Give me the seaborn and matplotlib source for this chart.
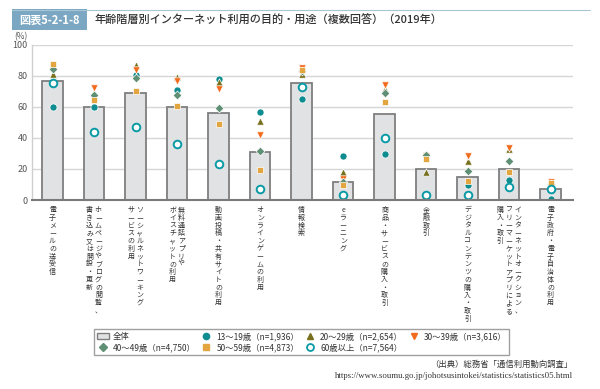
import matplotlib
matplotlib.use("Agg")
import matplotlib.pyplot as plt
import matplotlib.transforms as mtransforms
from matplotlib.patches import Rectangle, Patch
from matplotlib.lines import Line2D
import seaborn as sns
import pandas as pd

sns.set_theme(style="white")
plt.rcParams['font.family'] = ['Noto Sans CJK JP', 'DejaVu Sans']

# ---------------- data ----------------
categories = [
    ["電子メールの送受信"],
    ["ホームページやブログの閲覧、", "書き込み又は開設・更新"],
    ["ソーシャルネットワーキング", "サービスの利用"],
    ["無料通話アプリや", "ボイスチャットの利用"],
    ["動画投稿・共有サイトの利用"],
    ["オンラインゲームの利用"],
    ["情報検索"],
    ["eラーニング"],
    ["商品・サービスの購入・取引"],
    ["金融取引"],
    ["デジタルコンテンツの購入・取引"],
    ["インターネットオークション、", "フリーマーケットアプリによる", "購入・取引"],
    ["電子政府・電子自治体の利用"],
]
total   = [76.8, 59.8, 69.2, 60.0, 55.9, 31.2, 75.7, 11.5, 55.6, 19.8, 14.8, 20.0, 7.3]
age1319 = [59.9, 60.1, 80.9, 70.8, 77.8, 57.0, 64.9, 28.4, 29.7, 2.9, 9.7, 13.1, 0.6]
age2029 = [81.0, 68.8, 87.4, 79.6, 75.9, 51.2, 81.4, 18.2, 71.5, 18.0, 25.3, 33.0, 11.4]
age3039 = [85.0, 72.0, 83.6, 77.0, 71.8, 41.9, 85.4, 13.3, 74.4, 28.4, 28.3, 33.3, 11.9]
age4049 = [84.7, 67.9, 78.5, 67.7, 59.4, 31.8, 83.2, 11.7, 69.3, 28.9, 19.0, 25.2, 10.6]
age5059 = [87.5, 64.8, 70.5, 60.9, 48.8, 19.6, 83.9, 9.4, 63.2, 26.5, 12.5, 18.3, 11.0]
age60   = [75.8, 44.0, 47.2, 36.1, 23.4, 7.3, 72.7, 3.2, 40.3, 3.5, 3.5, 8.2, 6.9]

legend_total = "全体"
series_labels = ["13～19歳（n=1,936）", "20～29歳（n=2,654）", "30～39歳（n=3,616）",
                 "40～49歳（n=4,750）", "50～59歳（n=4,873）", "60歳以上（n=7,564）"]
yticks = [0, 20, 40, 60, 80, 100]
title_tag = "図表5-2-1-8"
title_text = "年齢階層別インターネット利用の目的・用途（複数回答）（2019年）"
source1 = "（出典）総務省「通信利用動向調査」"
source2 = "https://www.soumu.go.jp/johotsusintokei/statistics/statistics05.html"

# ---------------- styles ----------------
bar_face = "#e1e2e4"
bar_edge = "#7f7f7f"
styles = [
    dict(marker="o", color="#0e8c8f", s=26, fill=True),
    dict(marker="^", color="#77701f", s=28, fill=True),
    dict(marker="v", color="#f26a1b", s=28, fill=True),
    dict(marker="D", color="#5f8f74", s=20, fill=True),
    dict(marker="s", color="#e3a540", s=22, fill=True),
    dict(marker="o", color="#0a9aa5", s=30, fill=False),
]
series = [age1319, age2029, age3039, age4049, age5059, age60]

pos = list(range(len(total)))
df = pd.DataFrame({"pos": pos, "total": total})

fig = plt.figure(figsize=(6, 3.89), dpi=100)
ax = fig.add_axes([32/600, 1-200/389, (573-32)/600, 155/389])

sns.barplot(data=df, x="pos", y="total", ax=ax, color=bar_face,
            edgecolor=bar_edge, linewidth=1.3, width=0.49, saturation=1, zorder=2)

for vals, st in zip(series, styles):
    d = pd.DataFrame({"pos": pos, "v": vals})
    if st["fill"]:
        sns.scatterplot(data=d, x="pos", y="v", ax=ax, marker=st["marker"], s=st["s"],
                        color=st["color"], edgecolor="white", linewidth=0.5, zorder=4)
    else:
        sns.scatterplot(data=d, x="pos", y="v", ax=ax, marker="o", s=st["s"],
                        facecolor="white", edgecolor=st["color"], linewidth=1.4, zorder=5)

ax.set_xlim(-0.494, 12.54)
ax.set_ylim(0, 100)
ax.set_yticks(yticks)
ax.set_yticklabels([str(t) for t in yticks], fontsize=6.5, color="#555555")
ax.tick_params(axis="y", length=0, pad=3)
ax.set_xticks(pos)
ax.set_xticklabels([""] * len(pos))
ax.tick_params(axis="x", length=0)
ax.set_xlabel("")
ax.set_ylabel("")
for yv in yticks[1:]:
    ax.axhline(yv, color="#d6d6d6", lw=1.0, zorder=1)
for sp in ["top", "right"]:
    ax.spines[sp].set_visible(False)
ax.spines["left"].set_color("#cfcfcf")
ax.spines["left"].set_linewidth(1.0)
ax.spines["bottom"].set_color("#7a7a7a")
ax.spines["bottom"].set_linewidth(1.5)
ax.spines["bottom"].set_zorder(6)

# vertical (tategaki-style) category labels
trans = mtransforms.blended_transform_factory(ax.transData, fig.transFigure)
col_gap = 8.8 / 41.5
for i, cols in enumerate(categories):
    n = len(cols)
    for j, col in enumerate(cols):
        xoff = ((n - 1) / 2 - j) * col_gap
        ax.text(i + xoff, 1 - 206/389, "\n".join(col), transform=trans,
                ha="center", va="top", fontsize=5.0, linespacing=0.96,
                color="#333333", multialignment="center")

fig.text(21/600, 1-37/389, "(%)", fontsize=6, color="#555555", ha="center", va="center")

# title band
fig.add_artist(Line2D([12/600, 590/600], [1-9.5/389, 1-9.5/389], color="#a9c6d6", lw=0.8))
fig.add_artist(Rectangle((12/600, 1-30/389), 75/600, 20.5/389, transform=fig.transFigure,
                         facecolor="#7ba7c2", edgecolor="none"))
fig.text(49.5/600, 1-20/389, title_tag, fontsize=8, color="white", fontweight="bold",
         ha="center", va="center")
fig.text(95/600, 1-20/389, title_text, fontsize=8, color="#333333", fontweight="medium",
         ha="left", va="center")

# legend (column-major order to reproduce row layout)
h_total = Patch(facecolor=bar_face, edgecolor=bar_edge, linewidth=1.0)
hs = []
for st in styles:
    if st["fill"]:
        hs.append(Line2D([], [], linestyle="none", marker=st["marker"], color=st["color"],
                         markersize=4.5 if st["marker"] != "D" else 4))
    else:
        hs.append(Line2D([], [], linestyle="none", marker="o", markerfacecolor="white",
                         markeredgecolor=st["color"], markeredgewidth=1.3, markersize=5))
order_h = [h_total, hs[3], hs[0], hs[4], hs[1], hs[5], hs[2]]
order_l = [legend_total, series_labels[3], series_labels[0], series_labels[4],
           series_labels[1], series_labels[5], series_labels[2]]
leg = fig.legend(order_h, order_l, loc="upper left", bbox_to_anchor=(94/600, 1-329/389),
                 ncol=4, fontsize=6, frameon=True, fancybox=False, handlelength=1.4,
                 handleheight=0.8, handletextpad=0.5, columnspacing=0.6, labelspacing=0.25,
                 borderpad=0.35, borderaxespad=0)
leg.get_frame().set_edgecolor("#888888")
leg.get_frame().set_linewidth(1.0)
for t in leg.get_texts():
    t.set_color("#333333")

fig.text(573/600, 1-364/389, source1, fontsize=6, color="#333333", ha="right", va="center")
fig.text(573/600, 1-376/389, source2, fontsize=6.3, color="#333333", ha="right", va="center",
         family=["Liberation Serif", "DejaVu Serif"])

fig.savefig("out.png", dpi=100)
